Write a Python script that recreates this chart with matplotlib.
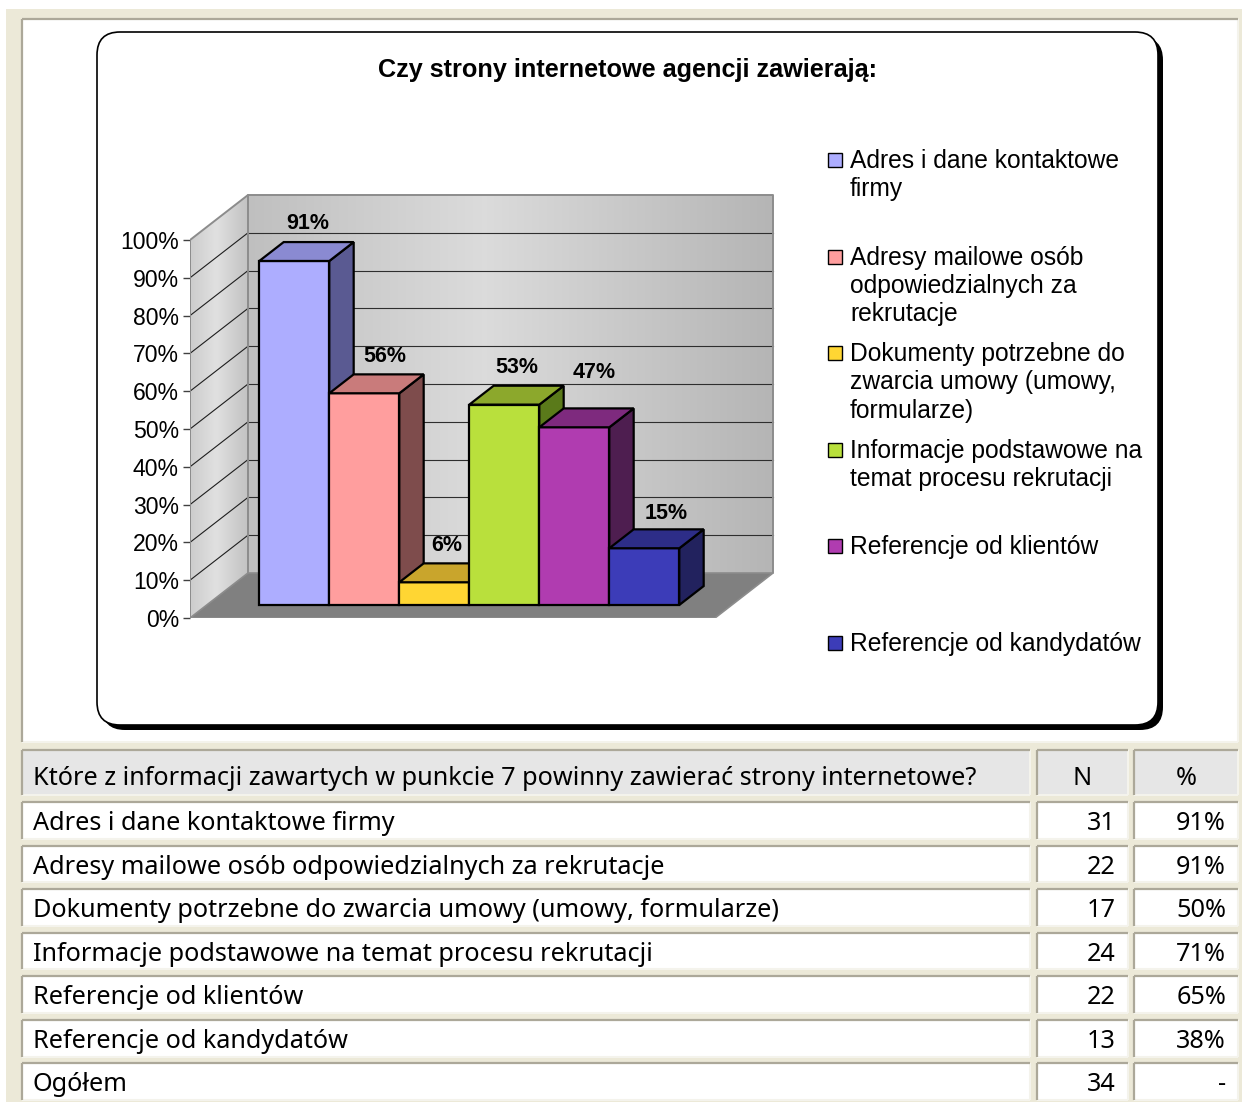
import matplotlib
matplotlib.use("Agg")
import matplotlib.pyplot as plt
from matplotlib.patches import Polygon, Rectangle, FancyBboxPatch
import numpy as np

# ---------------------------------------------------------------- data
title = "Czy strony internetowe agencji zawierają:"
categories = [
    "Adres i dane kontaktowe firmy",
    "Adresy mailowe osób odpowiedzialnych za rekrutacje",
    "Dokumenty potrzebne do zwarcia umowy (umowy, formularze)",
    "Informacje podstawowe na temat procesu rekrutacji",
    "Referencje od klientów",
    "Referencje od kandydatów",
]
legend_labels = [
    "Adres i dane kontaktowe\nfirmy",
    "Adresy mailowe osób\nodpowiedzialnych za\nrekrutacje",
    "Dokumenty potrzebne do\nzwarcia umowy (umowy,\nformularze)",
    "Informacje podstawowe na\ntemat procesu rekrutacji",
    "Referencje od klientów",
    "Referencje od kandydatów",
]
chart_values = [91, 56, 6, 53, 47, 15]
y_ticks = [0, 10, 20, 30, 40, 50, 60, 70, 80, 90, 100]

table_question = "Które z informacji zawartych w punkcie 7 powinny zawierać strony internetowe?"
table_header_n = "N"
table_header_pct = "%"
table_n = [31, 22, 17, 24, 22, 13]
table_pct = [91, 91, 50, 71, 65, 38]
total_label = "Ogółem"
total_n = 34
total_pct = "-"

# ---------------------------------------------------------------- style
face_colors = ["#ADADFF", "#FF9E9E", "#FFD633", "#B9E03C", "#B03CB0", "#3C3CB8"]
top_colors = ["#8A8AD2", "#C97B7B", "#C9A52C", "#8CA82C", "#7E2A7E", "#2D2D88"]
side_colors = ["#5A5A92", "#7E4C4C", "#80691C", "#5A7A1A", "#4E1E50", "#22225E"]

CHART_FONT = "Liberation Sans"
TABLE_FONT = "Noto Sans"
BEIGE = "#ECE9D8"
CELL_DARK = "#ACA899"
CELL_LIGHT = "#F4F3EC"

W, H = 1242, 1102
fig = plt.figure(figsize=(W / 100, H / 100), dpi=100)
fig.patch.set_facecolor("white")

# page-level canvas in pixel units
bg = fig.add_axes([0, 0, 1, 1])
bg.set_xlim(0, W)
bg.set_ylim(H, 0)
bg.axis("off")

bg.add_patch(Rectangle((6, 9), W - 6, H - 9, facecolor=BEIGE, edgecolor="none"))


def cell(x0, y0, x1, y1, fill):
    bg.add_patch(Rectangle((x0, y0), x1 - x0, y1 - y0, facecolor=fill, edgecolor="none"))
    bg.plot([x0, x1], [y1, y1], color=CELL_LIGHT, lw=1.5, solid_capstyle="butt")
    bg.plot([x1, x1], [y0, y1], color=CELL_LIGHT, lw=1.5, solid_capstyle="butt")
    bg.plot([x0, x1], [y0, y0], color=CELL_DARK, lw=1.6, solid_capstyle="butt")
    bg.plot([x0, x0], [y0, y1], color=CELL_DARK, lw=1.6, solid_capstyle="butt")


# chart cell with rounded, shadowed frame
cell(22, 19, 1238, 742, "white")
box_x0, box_y0, box_x1, box_y1 = 97, 32, 1158, 725
bg.add_patch(FancyBboxPatch((box_x0 + 5, box_y0 + 5), box_x1 - box_x0, box_y1 - box_y0,
                            boxstyle="round,pad=0,rounding_size=23",
                            facecolor="black", edgecolor="black", lw=0))
bg.add_patch(FancyBboxPatch((box_x0, box_y0), box_x1 - box_x0, box_y1 - box_y0,
                            boxstyle="round,pad=0,rounding_size=23",
                            facecolor="white", edgecolor="black", lw=1.2))

bg.text(627.5, 77, title, ha="center", va="baseline",
        fontsize=18.2, fontweight="bold", family=CHART_FONT)

# legend
leg_top, leg_step, line_step = 168, 96.6, 28.3
for k, (lab, col) in enumerate(zip(legend_labels, face_colors)):
    base = leg_top + k * leg_step
    bg.add_patch(Rectangle((828, base - 15), 14, 14, facecolor=col, edgecolor="black", lw=1.0))
    for j, line in enumerate(lab.split("\n")):
        bg.text(850, base + j * line_step, line, ha="left", va="baseline",
                fontsize=17.7, family=CHART_FONT)

# ---------------------------------------------------------------- 3-D column chart
PX_X, PX_Y = 70.0, 3.78          # pixels per data unit
X0_PX, Y0_PX = 190, 618          # front-left floor corner
XMAX, YMAX = 8.45, 114.0
DX, DY = 58 / PX_X, 45 / PX_Y    # depth vector in data units
FLOOR_W = 7.5
BAR_D0, BAR_D1 = 0.29, 0.71      # depth slice taken by the bars

ax = fig.add_axes([X0_PX / W, (H - Y0_PX) / H, XMAX * PX_X / W, YMAX * PX_Y / H])
ax.set_xlim(0, XMAX)
ax.set_ylim(0, YMAX)
ax.patch.set_visible(False)
for s in ax.spines.values():
    s.set_visible(False)
ax.set_xticks([])
ax.set_yticks(y_ticks)
ax.set_yticklabels([f"{t}%" for t in y_ticks], fontsize=16.6, family=CHART_FONT)
ax.tick_params(axis="y", length=5, width=1.0, color="#404040", pad=3)

# back wall with soft horizontal gradient
xs = np.linspace(0, 1, 256)
back_shade = np.interp(xs, [0, 0.45, 1], [0.75, 0.86, 0.71])
ax.imshow(np.dstack([back_shade] * 3).reshape(1, -1, 3),
          extent=[DX, FLOOR_W + DX, DY, 100 + DY],
          aspect="auto", origin="lower", zorder=1, interpolation="bilinear")

left_wall = Polygon([(0, 0), (0, 100), (DX, 100 + DY), (DX, DY)], closed=True,
                    facecolor="none", edgecolor="none")
ax.add_patch(left_wall)
left_shade = np.interp(xs, [0, 0.45, 1], [0.80, 0.88, 0.76])
left_img = ax.imshow(np.dstack([left_shade] * 3).reshape(1, -1, 3),
                     extent=[0, DX, 0, 100 + DY], aspect="auto", origin="lower",
                     zorder=1, interpolation="bilinear")
left_img.set_clip_path(left_wall)

# gridlines on both walls
for t in y_ticks[1:-1]:
    ax.plot([DX, FLOOR_W + DX], [t + DY, t + DY], color="#2E2E2E", lw=0.8, zorder=2)
    ax.plot([0, DX], [t, t + DY], color="#1E1E1E", lw=0.8, zorder=2)

# wall outlines
edge_kw = dict(color="#8C8C8C", lw=1.4, zorder=2.5, solid_capstyle="round")
ax.plot([0, 0, DX, FLOOR_W + DX, FLOOR_W + DX], [0, 100, 100 + DY, 100 + DY, DY], **edge_kw)
ax.plot([DX, DX], [DY, 100 + DY], **edge_kw)

# floor
floor = Polygon([(0, 0), (FLOOR_W, 0), (FLOOR_W + DX, DY), (DX, DY)], closed=True,
                facecolor="#808080", edgecolor="#8C8C8C", lw=1.2, zorder=3)
ax.add_patch(floor)

# bars: front, side and top faces
label_nudge_px = [(1, 0), (8, 0), (0, 0), (0, 0), (8, 18), (10, -2)]
ox0, oy0 = BAR_D0 * DX, BAR_D0 * DY
ddx, ddy = (BAR_D1 - BAR_D0) * DX, (BAR_D1 - BAR_D0) * DY
bar_kw = dict(closed=True, edgecolor="black", lw=1.6, joinstyle="miter")
for i, v in enumerate(chart_values):
    xl = 0.75 + i + ox0
    xr = xl + 1
    yb = oy0
    yt = v + oy0
    z = 4 + i
    ax.add_patch(Polygon([(xl, yb), (xr, yb), (xr, yt), (xl, yt)],
                         facecolor=face_colors[i], zorder=z, **bar_kw))
    ax.add_patch(Polygon([(xr, yb), (xr + ddx, yb + ddy), (xr + ddx, yt + ddy), (xr, yt)],
                         facecolor=side_colors[i], zorder=z, **bar_kw))
    ax.add_patch(Polygon([(xl, yt), (xr, yt), (xr + ddx, yt + ddy), (xl + ddx, yt + ddy)],
                         facecolor=top_colors[i], zorder=z, **bar_kw))
    nx, ny = label_nudge_px[i]
    ax.annotate(f"{v}%", xy=(xl + 0.5 + ddx / 2, yt + ddy + 4.8),
                xytext=(nx * 0.72, ny * 0.72), textcoords="offset points",
                ha="center", va="center", fontsize=15.5, fontweight="bold",
                family=CHART_FONT, zorder=20, annotation_clip=False)

# ---------------------------------------------------------------- table
renderer = fig.canvas.get_renderer()
probe = bg.text(0, 0, table_question, fontsize=10, family=TABLE_FONT)
table_fs = 10 * 942 / probe.get_window_extent(renderer=renderer).width
probe.remove()

col_x = [(22, 1030), (1037, 1128), (1134, 1238)]
head_y0, head_y1 = 750, 795
for (x0, x1) in col_x:
    cell(x0, head_y0, x1, head_y1, "#E6E6E6")
bg.text(33, 785, table_question, ha="left", va="baseline", fontsize=table_fs, family=TABLE_FONT)
bg.text(1082, 785, table_header_n, ha="center", va="baseline", fontsize=table_fs, family=TABLE_FONT)
bg.text(1186, 785, table_header_pct, ha="center", va="baseline", fontsize=table_fs, family=TABLE_FONT)

rows = [(c, str(n), f"{p}%") for c, n, p in zip(categories, table_n, table_pct)]
rows.append((total_label, str(total_n), total_pct))
row_top, row_step, row_h = 802, 43.55, 36.8
for r, (name, n_txt, p_txt) in enumerate(rows):
    y0 = row_top + r * row_step
    y1 = y0 + row_h
    for (x0, x1) in col_x:
        cell(x0, y0, x1, y1, "white")
    base = y0 + 28
    bg.text(33, base, name, ha="left", va="baseline", fontsize=table_fs, family=TABLE_FONT)
    bg.text(1116, base, n_txt, ha="right", va="baseline", fontsize=table_fs, family=TABLE_FONT)
    bg.text(1226, base, p_txt, ha="right", va="baseline", fontsize=table_fs, family=TABLE_FONT)

fig.savefig("out.png", dpi=100, facecolor=fig.get_facecolor())
